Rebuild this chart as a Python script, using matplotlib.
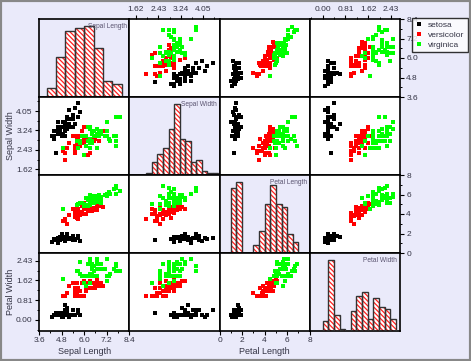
import numpy as np
import matplotlib
matplotlib.use("Agg")
import matplotlib.pyplot as plt
from matplotlib.ticker import AutoMinorLocator
from matplotlib.lines import Line2D
from matplotlib.patches import Rectangle

plt.rcParams["font.family"] = ["Liberation Sans", "DejaVu Sans"]
plt.rcParams["hatch.linewidth"] = 0.9

BG = "#EAEAFA"
TXT = "#333344"

# ---- data: Fisher's iris, 50 setosa, 50 versicolor, 50 virginica ----
species = ["setosa", "versicolor", "virginica"]
species_colors = ["black", "#FF0000", "#00FF00"]
per_species = 50

sepal_length = [
    5.1, 4.9, 4.7, 4.6, 5.0, 5.4, 4.6, 5.0, 4.4, 4.9, 5.4, 4.8, 4.8, 4.3, 5.8, 5.7, 5.4, 5.1, 5.7, 5.1,
    5.4, 5.1, 4.6, 5.1, 4.8, 5.0, 5.0, 5.2, 5.2, 4.7, 4.8, 5.4, 5.2, 5.5, 4.9, 5.0, 5.5, 4.9, 4.4, 5.1,
    5.0, 4.5, 4.4, 5.0, 5.1, 4.8, 5.1, 4.6, 5.3, 5.0,
    7.0, 6.4, 6.9, 5.5, 6.5, 5.7, 6.3, 4.9, 6.6, 5.2, 5.0, 5.9, 6.0, 6.1, 5.6, 6.7, 5.6, 5.8, 6.2, 5.6,
    5.9, 6.1, 6.3, 6.1, 6.4, 6.6, 6.8, 6.7, 6.0, 5.7, 5.5, 5.5, 5.8, 6.0, 5.4, 6.0, 6.7, 6.3, 5.6, 5.5,
    5.5, 6.1, 5.8, 5.0, 5.6, 5.7, 5.7, 6.2, 5.1, 5.7,
    6.3, 5.8, 7.1, 6.3, 6.5, 7.6, 4.9, 7.3, 6.7, 7.2, 6.5, 6.4, 6.8, 5.7, 5.8, 6.4, 6.5, 7.7, 7.7, 6.0,
    6.9, 5.6, 7.7, 6.3, 6.7, 7.2, 6.2, 6.1, 6.4, 7.2, 7.4, 7.9, 6.4, 6.3, 6.1, 7.7, 6.3, 6.4, 6.0, 6.9,
    6.7, 6.9, 5.8, 6.8, 6.7, 6.7, 6.3, 6.5, 6.2, 5.9]
sepal_width = [
    3.5, 3.0, 3.2, 3.1, 3.6, 3.9, 3.4, 3.4, 2.9, 3.1, 3.7, 3.4, 3.0, 3.0, 4.0, 4.4, 3.9, 3.5, 3.8, 3.8,
    3.4, 3.7, 3.6, 3.3, 3.4, 3.0, 3.4, 3.5, 3.4, 3.2, 3.1, 3.4, 4.1, 4.2, 3.1, 3.2, 3.5, 3.6, 3.0, 3.4,
    3.5, 2.3, 3.2, 3.5, 3.8, 3.0, 3.8, 3.2, 3.7, 3.3,
    3.2, 3.2, 3.1, 2.3, 2.8, 2.8, 3.3, 2.4, 2.9, 2.7, 2.0, 3.0, 2.2, 2.9, 2.9, 3.1, 3.0, 2.7, 2.2, 2.5,
    3.2, 2.8, 2.5, 2.8, 2.9, 3.0, 2.8, 3.0, 2.9, 2.6, 2.4, 2.4, 2.7, 2.7, 3.0, 3.4, 3.1, 2.3, 3.0, 2.5,
    2.6, 3.0, 2.6, 2.3, 2.7, 3.0, 2.9, 2.9, 2.5, 2.8,
    3.3, 2.7, 3.0, 2.9, 3.0, 3.0, 2.5, 2.9, 2.5, 3.6, 3.2, 2.7, 3.0, 2.5, 2.8, 3.2, 3.0, 3.8, 2.6, 2.2,
    3.2, 2.8, 2.8, 2.7, 3.3, 3.2, 2.8, 3.0, 2.8, 3.0, 2.8, 3.8, 2.8, 2.8, 2.6, 3.0, 3.4, 3.1, 3.0, 3.1,
    3.1, 3.1, 2.7, 3.2, 3.3, 3.0, 2.5, 3.0, 3.4, 3.0]
petal_length = [
    1.4, 1.4, 1.3, 1.5, 1.4, 1.7, 1.4, 1.5, 1.4, 1.5, 1.5, 1.6, 1.4, 1.1, 1.2, 1.5, 1.3, 1.4, 1.7, 1.5,
    1.7, 1.5, 1.0, 1.7, 1.9, 1.6, 1.6, 1.5, 1.4, 1.6, 1.6, 1.5, 1.5, 1.4, 1.5, 1.2, 1.3, 1.4, 1.3, 1.5,
    1.3, 1.3, 1.3, 1.6, 1.9, 1.4, 1.6, 1.4, 1.5, 1.4,
    4.7, 4.5, 4.9, 4.0, 4.6, 4.5, 4.7, 3.3, 4.6, 3.9, 3.5, 4.2, 4.0, 4.7, 3.6, 4.4, 4.5, 4.1, 4.5, 3.9,
    4.8, 4.0, 4.9, 4.7, 4.3, 4.4, 4.8, 5.0, 4.5, 3.5, 3.8, 3.7, 3.9, 5.1, 4.5, 4.5, 4.7, 4.4, 4.1, 4.0,
    4.4, 4.6, 4.0, 3.3, 4.2, 4.2, 4.2, 4.3, 3.0, 4.1,
    6.0, 5.1, 5.9, 5.6, 5.8, 6.6, 4.5, 6.3, 5.8, 6.1, 5.1, 5.3, 5.5, 5.0, 5.1, 5.3, 5.5, 6.7, 6.9, 5.0,
    5.7, 4.9, 6.7, 4.9, 5.7, 6.0, 4.8, 4.9, 5.6, 5.8, 6.1, 6.4, 5.6, 5.1, 5.6, 6.1, 5.6, 5.5, 4.8, 5.4,
    5.6, 5.1, 5.1, 5.9, 5.7, 5.2, 5.0, 5.2, 5.4, 5.1]
petal_width = [
    0.2, 0.2, 0.2, 0.2, 0.2, 0.4, 0.3, 0.2, 0.2, 0.1, 0.2, 0.2, 0.1, 0.1, 0.2, 0.4, 0.4, 0.3, 0.3, 0.3,
    0.2, 0.4, 0.2, 0.5, 0.2, 0.2, 0.4, 0.2, 0.2, 0.2, 0.2, 0.4, 0.1, 0.2, 0.2, 0.2, 0.2, 0.1, 0.2, 0.2,
    0.3, 0.3, 0.2, 0.6, 0.4, 0.3, 0.2, 0.2, 0.2, 0.2,
    1.4, 1.5, 1.5, 1.3, 1.5, 1.3, 1.6, 1.0, 1.3, 1.4, 1.0, 1.5, 1.0, 1.4, 1.3, 1.4, 1.5, 1.0, 1.5, 1.1,
    1.8, 1.3, 1.5, 1.2, 1.3, 1.4, 1.4, 1.7, 1.5, 1.0, 1.1, 1.0, 1.2, 1.6, 1.5, 1.6, 1.5, 1.3, 1.3, 1.3,
    1.2, 1.4, 1.2, 1.0, 1.3, 1.2, 1.3, 1.3, 1.1, 1.3,
    2.5, 1.9, 2.1, 1.8, 2.2, 2.1, 1.7, 1.8, 1.8, 2.5, 2.0, 1.9, 2.1, 2.0, 2.4, 2.3, 1.8, 2.2, 2.3, 1.5,
    2.3, 2.0, 2.0, 1.8, 2.1, 1.8, 1.8, 1.8, 2.1, 1.6, 1.9, 2.0, 2.2, 1.5, 1.4, 2.3, 2.4, 1.8, 1.8, 2.1,
    2.4, 2.3, 1.9, 2.3, 2.5, 2.3, 1.9, 2.0, 2.3, 1.8]

names = ["Sepal Length", "Sepal Width", "Petal Length", "Petal Width"]
columns = [np.array(sepal_length), np.array(sepal_width), np.array(petal_length), np.array(petal_width)]

# axis ranges, ticks and histogram bins per variable
ranges = [(3.6, 8.4), (1.38, 4.64), (0, 8), (-0.46, 2.75)]
ticks = [[3.6, 4.8, 6.0, 7.2, 8.4], [1.62, 2.43, 3.24, 4.05], [0, 2, 4, 6, 8], [0.00, 0.81, 1.62, 2.43]]
tick_fmt = ["{:.1f}", "{:.2f}", "{:.0f}", "{:.2f}"]
bins = [np.round(np.arange(4.0, 8.01, 0.5), 2), np.round(np.arange(2.0, 4.61, 0.2), 2),
        np.round(np.arange(1.0, 7.01, 0.5), 2), np.round(np.arange(0.0, 2.61, 0.2), 2)]

W, H = 471, 361
X0, Y0, CW, RH = 39, 19, 90.25, 78

fig = plt.figure(figsize=(W / 100, H / 100), dpi=100, facecolor=BG)


def panel_pos(r, c):
    return [(X0 + c * CW) / W, 1 - (Y0 + (r + 1) * RH) / H, CW / W, RH / H]


for r in range(4):
    for c in range(4):
        ax = fig.add_axes(panel_pos(r, c))
        for s in ax.spines.values():
            s.set_linewidth(1.2)
            s.set_color("black")
        ax.tick_params(which="both", bottom=False, top=False, left=False, right=False,
                       labelbottom=False, labeltop=False, labelleft=False, labelright=False)
        ax.tick_params(which="major", length=3, width=0.8, labelsize=6, labelcolor=TXT, pad=1.5)
        ax.tick_params(which="minor", length=1.6, width=0.7)
        ax.set_xlim(ranges[c])

        if r == c:
            ax.set_facecolor(BG)
            counts, edges = np.histogram(columns[c], bins=bins[c])
            keep = counts > 0
            left = edges[:-1][keep]
            width = np.diff(edges)[keep]
            ax.bar(left, counts[keep], width=width, align="edge", facecolor="white",
                   edgecolor="#FF2020", hatch="\\" * 7, linewidth=0, zorder=2)
            ax.bar(left, counts[keep], width=width, align="edge", fill=False,
                   edgecolor="#333333", linewidth=1.0, zorder=3)
            ax.set_ylim(0, counts.max() * 1.1)
            ax.text(0.97, 0.95, names[c], transform=ax.transAxes, ha="right", va="top",
                    fontsize=4.8, color="#5a5470")
        else:
            ax.set_facecolor("white")
            ax.set_ylim(ranges[r])
            for k, (sp, col) in enumerate(zip(species, species_colors)):
                sl = slice(k * per_species, (k + 1) * per_species)
                ax.plot(columns[c][sl], columns[r][sl], "s", color=col, ms=2.2, mew=0, zorder=3)

        # outer axes: bottom / top for columns, left / right for rows
        if (r == 3 and c in (0, 2)) or (r == 0 and c in (1, 3)):
            ax.set_xticks(ticks[c])
            ax.set_xticklabels([tick_fmt[c].format(t) for t in ticks[c]])
            ax.xaxis.set_minor_locator(AutoMinorLocator(2))
            if r == 3:
                ax.tick_params(which="both", bottom=True, labelbottom=True)
                ax.set_xlabel(names[c], fontsize=6.5, color=TXT, labelpad=2)
            else:
                ax.tick_params(which="both", top=True, labeltop=True)
        else:
            ax.set_xticks([])
        if (c == 0 and r in (1, 3)) or (c == 3 and r in (0, 2)):
            ax.set_yticks(ticks[r])
            ax.set_yticklabels([tick_fmt[r].format(t) for t in ticks[r]])
            ax.yaxis.set_minor_locator(AutoMinorLocator(2))
            if c == 0:
                ax.tick_params(which="both", left=True, labelleft=True)
                ax.set_ylabel(names[r], fontsize=6.5, color=TXT, labelpad=1)
            else:
                ax.tick_params(which="both", right=True, labelright=True)
        else:
            ax.set_yticks([])

handles = [Line2D([], [], marker="s", ls="", color=col, ms=2.5, mew=0) for col in species_colors]
leg = fig.legend(handles, species, loc="upper left", bbox_to_anchor=(412 / W, 1 - 18 / H),
                 frameon=True, fancybox=False, edgecolor="black", facecolor="white",
                 fontsize=6, handlelength=1.0, handletextpad=0.6, borderpad=0.35,
                 labelspacing=0.25, borderaxespad=0)
leg.get_frame().set_linewidth(1.0)
for t in leg.get_texts():
    t.set_color(TXT)

fig.patches.append(Rectangle((0, 0), 1, 1, transform=fig.transFigure, fill=False,
                             edgecolor="#888888", linewidth=3, zorder=10))

fig.savefig("out.png", dpi=100, facecolor=fig.get_facecolor())
